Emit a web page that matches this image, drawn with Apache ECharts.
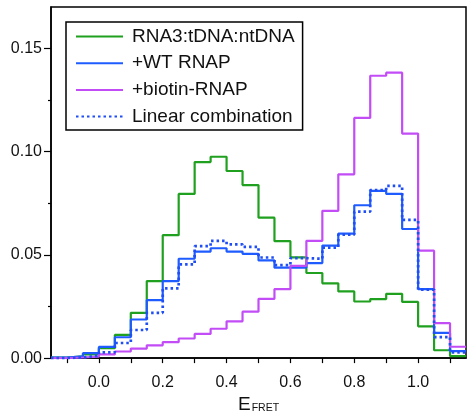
<!DOCTYPE html>
<html>
<head>
<meta charset="utf-8">
<script src="https://cdn.jsdelivr.net/npm/echarts@6/dist/echarts.min.js"></script>
<style>
  html, body { margin: 0; padding: 0; background: #fff; }
  #chart { width: 467px; height: 419px; }
</style>
</head>
<body>
<div id="chart"></div>
<script>
// FRET efficiency histograms, bins of width 0.05 starting at -0.15
const binStart = -0.15;
const binWidth = 0.05;

const rna3Complex = [0.0002, 0.0008, 0.0018, 0.0048, 0.0112, 0.0219, 0.0373, 0.0595, 0.0795, 0.0949,
  0.0975, 0.0906, 0.0838, 0.0680, 0.0566, 0.0488, 0.0412, 0.0362, 0.0323, 0.0274,
  0.0286, 0.0311, 0.0272, 0.0154, 0.0038, 0.0010];
const wtRnap = [0.0002, 0.0008, 0.0024, 0.0054, 0.0101, 0.0187, 0.0281, 0.0373, 0.0481, 0.0516,
  0.0532, 0.0516, 0.0505, 0.0473, 0.0438, 0.0438, 0.0460, 0.0545, 0.0603, 0.0740,
  0.0810, 0.0795, 0.0625, 0.0334, 0.0122, 0.0034];
const biotinRnap = [0.0000, 0.0003, 0.0007, 0.0018, 0.0032, 0.0046, 0.0062, 0.0077, 0.0095, 0.0117,
  0.0142, 0.0178, 0.0225, 0.0287, 0.0334, 0.0447, 0.0568, 0.0713, 0.0890, 0.1163,
  0.1367, 0.1382, 0.1087, 0.0520, 0.0169, 0.0055];
const linearCombination = [0.0000, 0.0003, 0.0012, 0.0028, 0.0073, 0.0136, 0.0219, 0.0338, 0.0454, 0.0542,
  0.0568, 0.0551, 0.0539, 0.0487, 0.0450, 0.0484, 0.0481, 0.0535, 0.0598, 0.0709,
  0.0814, 0.0834, 0.0669, 0.0332, 0.0102, 0.0028];

const seriesNames = ['RNA3:tDNA:ntDNA', '+WT RNAP', '+biotin-RNAP', 'Linear combination'];

const xTickValues = [-0.1, 0.0, 0.1, 0.2, 0.3, 0.4, 0.5, 0.6, 0.7, 0.8, 0.9, 1.0, 1.1];
const xLabelValues = [0.0, 0.2, 0.4, 0.6, 0.8, 1.0];
const yLabelValues = [0.00, 0.05, 0.10, 0.15];
const yMinorTickValues = [0.025, 0.075, 0.125];

// Step outline: one point per left bin edge, plus the closing right edge
function toSteps(values) {
  const pts = values.map((v, i) => [binStart + i * binWidth, v]);
  pts.push([binStart + values.length * binWidth, values[values.length - 1]]);
  return pts;
}

const FONT = 'Liberation Sans';
const chart = echarts.init(document.getElementById('chart'), null, { renderer: 'canvas' });

function histSeries(name, values, color, type, width) {
  return {
    name: name,
    type: 'line',
    step: 'end',
    data: toSteps(values),
    showSymbol: false,
    symbol: 'none',
    animation: false,
    lineStyle: { color: color, width: width, type: type, cap: 'butt' },
    itemStyle: { color: color }
  };
}

chart.setOption({
  animation: false,
  backgroundColor: '#fff',
  grid: {
    left: 51, right: 1, top: 7, bottom: 55,
    show: true, borderColor: '#000', borderWidth: 1.5
  },
  legend: {
    orient: 'vertical',
    left: 66, top: 22,
    padding: [5, 8, 4, 9],
    itemWidth: 47, itemHeight: 14, itemGap: 7.7,
    borderColor: '#000', borderWidth: 1.5,
    backgroundColor: '#fff',
    itemStyle: { opacity: 0 },
    data: seriesNames,
    textStyle: { fontFamily: FONT, fontSize: 19, color: '#111', lineHeight: 19, padding: [0, 0, 0, 4] }
  },
  xAxis: {
    type: 'value',
    min: -0.15, max: 1.15,
    splitLine: { show: false },
    axisLine: { show: true, onZero: false, lineStyle: { color: '#000', width: 1.5 } },
    axisTick: { show: true, length: 5, customValues: xTickValues, lineStyle: { color: '#000', width: 1.2 } },
    axisLabel: {
      customValues: xLabelValues, margin: 16,
      formatter: v => v.toFixed(1),
      fontFamily: FONT, fontSize: 16, color: '#111'
    },
    name: '{e|E}{s|FRET}',
    nameLocation: 'middle',
    nameGap: 33,
    nameTextStyle: {
      rich: {
        e: { fontFamily: FONT, fontSize: 19, color: '#111', lineHeight: 22, verticalAlign: 'bottom' },
        s: { fontFamily: FONT, fontSize: 10.5, color: '#111', lineHeight: 10, verticalAlign: 'bottom', padding: [0, 0, 0, 1] }
      }
    }
  },
  yAxis: [
    {
      type: 'value',
      min: 0, max: 0.17,
      splitLine: { show: false },
      axisLine: { show: true, onZero: false, lineStyle: { color: '#000', width: 1.5 } },
      axisTick: { show: true, length: 7, customValues: yLabelValues, lineStyle: { color: '#000', width: 1.2 } },
      axisLabel: {
        customValues: yLabelValues, margin: 9,
        formatter: v => v.toFixed(2),
        fontFamily: FONT, fontSize: 16, color: '#111'
      }
    },
    {
      type: 'value',
      position: 'left',
      min: 0, max: 0.17,
      splitLine: { show: false },
      axisLine: { show: false, onZero: false },
      axisTick: { show: true, length: 3, customValues: yMinorTickValues, lineStyle: { color: '#000', width: 1.2 } },
      axisLabel: { show: false }
    }
  ],
  series: [
    histSeries(seriesNames[0], rna3Complex, '#1fa01f', 'solid', 2.2),
    histSeries(seriesNames[1], wtRnap, '#1f5cff', 'solid', 2.2),
    histSeries(seriesNames[2], biotinRnap, '#c24cf6', 'solid', 2.2),
    histSeries(seriesNames[3], linearCombination, '#1f4ef5', [2.5, 3], 2.7)
  ]
});
</script>
</body>
</html>
